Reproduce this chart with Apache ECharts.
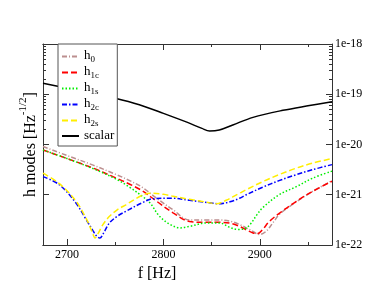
<!DOCTYPE html>
<html>
<head>
<meta charset="utf-8">
<script src="https://cdn.jsdelivr.net/npm/echarts@6/dist/echarts.min.js"></script>
<style>html,body{margin:0;padding:0;background:#fff;}#c{width:374px;height:289px;}</style>
</head>
<body>
<div id="c"></div>
<script>
const xMajor = [2700, 2800, 2900];
const xMinor = [2750, 2850, 2950];
const yMajor = [1e-22, 1e-21, 1e-20, 1e-19, 1e-18];

const scalarF = [2675, 2700, 2725, 2750, 2775, 2800, 2825, 2840, 2848, 2858, 2872, 2893, 2924, 2950, 2975];
const scalarV = [1.66e-19, 1.32e-19, 1.05e-19, 8.32e-20, 6.17e-20, 4.17e-20, 2.75e-20, 2.09e-20, 1.86e-20, 1.95e-20, 2.45e-20, 3.47e-20, 4.79e-20, 5.89e-20, 7.08e-20];

const h0F = [2675, 2700, 2727, 2750, 2765, 2778, 2793, 2810, 2827, 2845, 2858, 2870, 2880, 2890, 2900, 2907, 2914, 2921, 2938, 2955, 2975];
const h0V = [9.12e-21, 6.03e-21, 3.89e-21, 2.57e-21, 1.91e-21, 1.41e-21, 8.51e-22, 5.01e-22, 3.16e-22, 3.16e-22, 3.16e-22, 2.95e-22, 2.51e-22, 2.00e-22, 1.62e-22, 1.91e-22, 2.82e-22, 4.17e-22, 7.24e-22, 1.17e-21, 1.91e-21];

const h1cF = [2675, 2700, 2727, 2750, 2765, 2778, 2793, 2810, 2827, 2845, 2860, 2870, 2879, 2886, 2893, 2898, 2903, 2910, 2921, 2938, 2955, 2975];
const h1cV = [7.76e-21, 5.25e-21, 3.39e-21, 2.19e-21, 1.62e-21, 1.20e-21, 7.41e-22, 4.37e-22, 2.95e-22, 2.82e-22, 2.82e-22, 2.69e-22, 2.34e-22, 2.00e-22, 1.74e-22, 1.70e-22, 2.04e-22, 2.95e-22, 4.37e-22, 7.41e-22, 1.17e-21, 1.86e-21];

const h1sF = [2675, 2700, 2727, 2750, 2765, 2778, 2786, 2796, 2807, 2817, 2827, 2845, 2858, 2869, 2877, 2884, 2890, 2897, 2903, 2920, 2938, 2955, 2975];
const h1sV = [7.76e-21, 5.25e-21, 3.31e-21, 2.09e-21, 1.41e-21, 9.33e-22, 6.92e-22, 3.72e-22, 2.57e-22, 2.19e-22, 2.34e-22, 2.75e-22, 2.75e-22, 2.24e-22, 2.04e-22, 2.09e-22, 2.57e-22, 3.98e-22, 5.50e-22, 1.00e-21, 1.45e-21, 2.14e-21, 2.95e-21];

const h2cF = [2675, 2692, 2709, 2720, 2727, 2731, 2734, 2738, 2744, 2752, 2761, 2778, 2789, 2810, 2827, 2848, 2858, 2869, 2879, 2886, 2903, 2920, 2938, 2955, 2975];
const h2cV = [2.29e-21, 1.58e-21, 6.92e-22, 3.16e-22, 1.91e-22, 1.48e-22, 1.38e-22, 1.74e-22, 2.75e-22, 3.72e-22, 4.68e-22, 6.92e-22, 8.32e-22, 8.51e-22, 7.76e-22, 6.92e-22, 6.61e-22, 7.24e-22, 8.51e-22, 1.00e-21, 1.41e-21, 1.91e-21, 2.51e-21, 3.16e-21, 3.98e-21];

const h2sF = [2675, 2692, 2709, 2720, 2726, 2729, 2732, 2737, 2744, 2752, 2761, 2778, 2788, 2800, 2810, 2827, 2845, 2855, 2865, 2879, 2886, 2903, 2920, 2938, 2955, 2975];
const h2sV = [2.69e-21, 1.66e-21, 7.59e-22, 3.31e-22, 1.82e-22, 1.38e-22, 1.66e-22, 2.51e-22, 3.72e-22, 5.01e-22, 6.31e-22, 9.77e-22, 1.07e-21, 1.02e-21, 9.33e-22, 8.13e-22, 7.08e-22, 6.61e-22, 7.76e-22, 1.07e-21, 1.26e-21, 1.82e-21, 2.51e-21, 3.39e-21, 4.27e-21, 5.25e-21];

const FONT = 'Liberation Serif';
const AX = '#333';
const pairs = (f, v) => f.map((x, i) => [x, v[i]]);

function mk(name, f, v, color, type, width) {
  return {
    name: name, type: 'line', data: pairs(f, v), xAxisIndex: 0, yAxisIndex: 0,
    symbol: 'none', showSymbol: false, smooth: 0.35,
    lineStyle: { color: color, width: width, type: type }, itemStyle: { color: color },
    clip: true, z: 2
  };
}

function xAx(pos, vals, len, labels) {
  return {
    type: 'value', position: pos, min: 2675, max: 2975, gridIndex: 0,
    axisLine: { show: true, onZero: false, lineStyle: { color: AX, width: 1 } },
    axisTick: { show: true, inside: true, length: len, customValues: vals, lineStyle: { color: AX } },
    axisLabel: labels ? { show: true, customValues: vals, margin: 4, color: '#000', fontFamily: FONT, fontSize: 12, formatter: function (v) { return String(v); } } : { show: false },
    splitLine: { show: false }
  };
}

const option = {
  animation: false,
  backgroundColor: '#fff',
  grid: { left: 43, top: 44, width: 289, height: 201, containLabel: false },
  legend: {
    orient: 'vertical', left: 58, top: 44,
    backgroundColor: '#fff', borderColor: '#555', borderWidth: 1, borderRadius: 0,
    padding: [5, 3, 4, 3], itemWidth: 17, itemHeight: 10, itemGap: 1,
    itemStyle: { opacity: 0 },
    data: ['h0', 'h1c', 'h1s', 'h2c', 'h2s', 'scalar'],
    formatter: function (n) { return n === 'scalar' ? '{m|scalar}' : '{m|h}{s|' + n.slice(1) + '}'; },
    textStyle: {
      color: '#000', fontFamily: FONT,
      rich: {
        m: { fontSize: 13, fontFamily: FONT, color: '#000', lineHeight: 14, verticalAlign: 'top' },
        s: { fontSize: 9, fontFamily: FONT, color: '#000', verticalAlign: 'top', padding: [6, 0, 0, 0] }
      }
    }
  },
  xAxis: [
    Object.assign(xAx('bottom', xMajor, 6, true), {
      name: 'f [Hz]', nameLocation: 'middle', nameGap: 6,
      nameTextStyle: { fontFamily: FONT, fontSize: 16, color: '#000', padding: [0, 61, 0, 0] }
    }),
    xAx('bottom', xMinor, 3, false),
    xAx('top', xMajor, 6, false),
    xAx('top', xMinor, 3, false)
  ],
  yAxis: [
    {
      type: 'log', logBase: 10, position: 'left', min: 1e-22, max: 1e-18, gridIndex: 0,
      axisLine: { show: true, onZero: false, lineStyle: { color: AX, width: 1 } },
      axisTick: { show: true, inside: true, length: 6, customValues: yMajor, lineStyle: { color: AX } },
      minorTick: { show: true, splitNumber: 9, length: 3, lineStyle: { color: AX } },
      axisLabel: { show: false },
      splitLine: { show: false },
      name: '{m|h modes [Hz}{s|-1/2}{m|]}', nameLocation: 'middle', nameRotate: 90, nameGap: 4,
      nameTextStyle: {
        fontFamily: FONT, color: '#000',
        rich: {
          m: { fontSize: 16, fontFamily: FONT, color: '#000', verticalAlign: 'top', padding: [5, 0, 0, 0] },
          s: { fontSize: 11, fontFamily: FONT, color: '#000', verticalAlign: 'top' }
        }
      }
    },
    {
      type: 'log', logBase: 10, position: 'right', min: 1e-22, max: 1e-18, gridIndex: 0,
      axisLine: { show: true, onZero: false, lineStyle: { color: AX, width: 1 } },
      axisTick: { show: true, inside: true, length: 6, customValues: yMajor, lineStyle: { color: AX } },
      minorTick: { show: true, splitNumber: 9, length: 3, lineStyle: { color: AX } },
      axisLabel: {
        show: true, customValues: yMajor, margin: 3, color: '#000', fontFamily: FONT, fontSize: 12,
        formatter: function (v) { return '1e' + Math.round(Math.log10(v)); }
      },
      splitLine: { show: false }
    }
  ],
  series: [
    mk('h0', h0F, h0V, '#bc8f8f', [5, 2, 1, 2], 1.5),
    mk('h1c', h1cF, h1cV, '#ff0000', [6, 3], 1.5),
    mk('h1s', h1sF, h1sV, '#00ee00', [1.5, 2], 1.5),
    mk('h2c', h2cF, h2cV, '#0000ff', [5, 2, 1.5, 2], 1.5),
    mk('h2s', h2sF, h2sV, '#ffee00', [6, 3], 1.5),
    mk('scalar', scalarF, scalarV, '#000000', 'solid', 1.5)
  ]
};

const chart = echarts.init(document.getElementById('c'), null, { renderer: 'canvas' });
chart.setOption(option);
</script>
</body>
</html>
